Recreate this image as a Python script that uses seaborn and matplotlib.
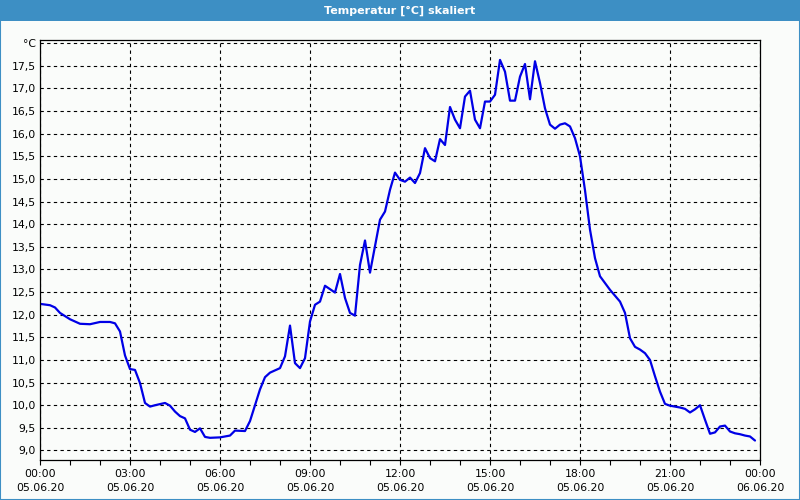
import matplotlib
matplotlib.use("Agg")
import matplotlib.pyplot as plt
import matplotlib.dates as mdates
from matplotlib.patches import Rectangle
import seaborn as sns
import pandas as pd

# ---------------- data ----------------
title = "Temperatur [°C] skaliert"
day = "2020-06-05"
times = [
    "00:00", "00:20", "00:30", "00:40", "01:00", "01:20", "01:40", "02:00", "02:20", "02:30",
    "02:40", "02:50", "03:00", "03:10", "03:20", "03:30", "03:40", "03:50", "04:10", "04:20",
    "04:30", "04:40", "04:50", "05:00", "05:10", "05:20", "05:30", "05:40", "06:00", "06:20",
    "06:30", "06:50", "07:00", "07:10", "07:20", "07:30", "07:40", "08:00", "08:10", "08:20",
    "08:30", "08:40", "08:50", "09:00", "09:10", "09:20", "09:30", "09:50", "10:00", "10:10",
    "10:20", "10:30", "10:40", "10:50", "11:00", "11:10", "11:20", "11:30", "11:40", "11:50",
    "12:00", "12:10", "12:20", "12:30", "12:40", "12:50", "13:00", "13:10", "13:20", "13:30",
    "13:40", "13:50", "14:00", "14:10", "14:20", "14:30", "14:40", "14:50", "15:00", "15:10",
    "15:20", "15:30", "15:40", "15:50", "16:00", "16:10", "16:20", "16:30", "16:40", "16:50",
    "17:00", "17:10", "17:20", "17:30", "17:40", "17:50", "18:00", "18:10", "18:20", "18:30",
    "18:40", "18:50", "19:00", "19:10", "19:20", "19:30", "19:40", "19:50", "20:00", "20:10",
    "20:20", "20:30", "20:40", "20:50", "21:00", "21:10", "21:20", "21:30", "21:40", "21:50",
    "22:00", "22:10", "22:20", "22:30", "22:40", "22:50", "23:00", "23:10", "23:20", "23:30",
    "23:40", "23:50",
]
temps = [
    12.24, 12.21, 12.16, 12.04, 11.90, 11.80, 11.79, 11.84, 11.84, 11.81,
    11.63, 11.10, 10.80, 10.78, 10.49, 10.05, 9.97, 10.00, 10.05, 9.99,
    9.86, 9.76, 9.71, 9.46, 9.41, 9.49, 9.30, 9.28, 9.29, 9.33,
    9.44, 9.43, 9.65, 10.00, 10.35, 10.62, 10.72, 10.82, 11.08, 11.76,
    10.93, 10.82, 11.04, 11.85, 12.22, 12.29, 12.64, 12.49, 12.90, 12.37,
    12.04, 11.98, 13.10, 13.64, 12.93, 13.51, 14.10, 14.28, 14.76, 15.14,
    14.98, 14.94, 15.03, 14.91, 15.13, 15.68, 15.46, 15.39, 15.88, 15.75,
    16.59, 16.31, 16.12, 16.82, 16.95, 16.31, 16.12, 16.71, 16.71, 16.86,
    17.63, 17.37, 16.73, 16.73, 17.26, 17.54, 16.76, 17.60, 17.12, 16.56,
    16.20, 16.11, 16.20, 16.23, 16.16, 15.90, 15.50, 14.75, 13.88, 13.25,
    12.85, 12.70, 12.55, 12.42, 12.29, 12.04, 11.48, 11.29, 11.23, 11.15,
    11.00, 10.64, 10.30, 10.03, 9.99, 9.97, 9.95, 9.92, 9.84, 9.91,
    10.00, 9.68, 9.37, 9.40, 9.53, 9.55, 9.42, 9.38, 9.36, 9.33,
    9.31, 9.22,
]
ytick_values = [9.0, 9.5, 10.0, 10.5, 11.0, 11.5, 12.0, 12.5, 13.0, 13.5,
                14.0, 14.5, 15.0, 15.5, 16.0, 16.5, 17.0, 17.5, 18.0]
ytick_labels = ["9,0", "9,5", "10,0", "10,5", "11,0", "11,5", "12,0", "12,5", "13,0", "13,5",
                "14,0", "14,5", "15,0", "15,5", "16,0", "16,5", "17,0", "17,5", "°C"]

# ---------------- style ----------------
bg = "#fafcfa"
frame_blue = "#3d8fc4"
line_blue = "#0000e6"

sns.set_style("white")
plt.rcParams["font.family"] = ["DejaVu Sans"]

df = pd.DataFrame({
    "Zeit": pd.to_datetime([f"{day} {t}" for t in times]),
    "Temperatur": temps,
})

fig = plt.figure(figsize=(8, 5), dpi=100, facecolor=bg)
ax = fig.add_axes([0.05, 0.08, 0.90, 0.84])
ax.set_facecolor(bg)

sns.lineplot(data=df, x="Zeit", y="Temperatur", ax=ax, color=line_blue, linewidth=1.6)

ax.set_xlim(pd.Timestamp(day), pd.Timestamp(day) + pd.Timedelta(hours=24))
ax.set_ylim(8.79, 18.07)

ax.xaxis.set_major_locator(mdates.HourLocator(byhour=range(0, 24, 3)))
ax.xaxis.set_minor_locator(mdates.HourLocator(interval=1))
ax.xaxis.set_major_formatter(mdates.DateFormatter("%H:%M\n%d.%m.%y"))
ax.set_yticks(ytick_values)
ax.set_yticklabels(ytick_labels)

ax.set_xlabel("")
ax.set_ylabel("")

ax.grid(True, which="major", color="black", linestyle=(0, (3, 3)), linewidth=0.8)
ax.tick_params(axis="y", left=True, length=0, pad=3, labelsize=7.8, colors="black")
ax.tick_params(axis="x", which="both", bottom=True, length=3.5, width=0.8,
               direction="out", pad=3, labelsize=7.8, colors="black")
for lbl in ax.get_xticklabels():
    lbl.set_linespacing(1.45)
for s in ax.spines.values():
    s.set_color("black")
    s.set_linewidth(0.9)

# title bar and window frame
fig.patches.append(Rectangle((0, 1 - 21 / 500), 1, 21 / 500, transform=fig.transFigure,
                             facecolor=frame_blue, edgecolor="none", zorder=0))
fig.patches.append(Rectangle((0, 0), 1, 1, transform=fig.transFigure, fill=False,
                             edgecolor=frame_blue, linewidth=1.5, zorder=1))
fig.text(0.5, 1 - 10.5 / 500, title, ha="center", va="center", color="white",
         fontweight="bold", fontsize=8)

fig.savefig("out.png", dpi=100, facecolor=bg)
